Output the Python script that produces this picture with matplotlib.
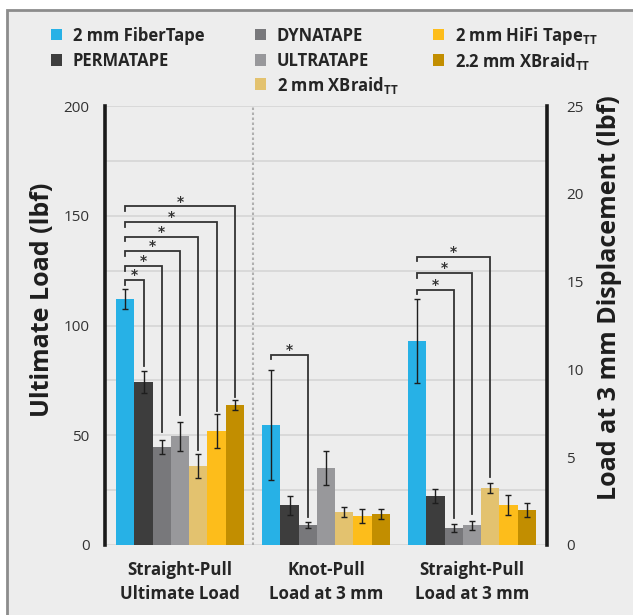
import matplotlib
matplotlib.use("Agg")
import matplotlib.pyplot as plt
import numpy as np
from matplotlib.patches import Rectangle

# ---------------- data ----------------
series = ["2 mm FiberTape", "PERMATAPE", "DYNATAPE", "ULTRATAPE",
          r"2 mm XBraid$_{\mathbf{TT}}$", r"2 mm HiFi Tape$_{\mathbf{TT}}$",
          r"2.2 mm XBraid$_{\mathbf{TT}}$"]
colors = ["#27b1e6", "#3d3d3d", "#78787b", "#98989b", "#e3c26f", "#fdbd1b", "#c28e00"]
groups = ["Straight-Pull\nUltimate Load", "Knot-Pull\nLoad at 3 mm", "Straight-Pull\nLoad at 3 mm"]

ultimate_load = [112.1, 74.1, 44.6, 49.4, 35.9, 51.9, 63.7]
ultimate_err = [4.7, 5.0, 3.3, 6.8, 5.5, 7.7, 2.2]
knot_load3 = [6.83, 2.26, 1.12, 4.37, 1.86, 1.64, 1.75]
knot_err = [3.14, 0.54, 0.16, 0.98, 0.30, 0.39, 0.26]
straight_load3 = [11.62, 2.78, 0.95, 1.12, 3.23, 2.26, 1.98]
straight_err = [2.40, 0.42, 0.23, 0.26, 0.29, 0.59, 0.40]

left_ticks = [0, 50, 100, 150, 200]
right_ticks = [0, 5, 10, 15, 20, 25]

# significance brackets: (target series index, bracket height, drop end)
brackets_g1 = [(1, 120.6, 81.7), (2, 127.0, 51.3), (3, 133.9, 59.0),
               (4, 140.5, 43.2), (5, 147.1, 61.1), (6, 154.3, 67.5)]
brackets_g2 = [(2, 10.84, 1.6)]
brackets_g3 = [(2, 14.52, 1.5), (3, 15.48, 1.73), (4, 16.42, 3.84)]

# ---------------- style ----------------
BFAM = "Open Sans"
plt.rcParams["mathtext.fontset"] = "custom"
plt.rcParams["mathtext.rm"] = BFAM
plt.rcParams["mathtext.bf"] = BFAM + ":bold"
BOLD = dict(family=BFAM, weight="bold")
TXT = "#252525"
W, H = 633, 615

fig = plt.figure(figsize=(W / 100, H / 100), dpi=100, facecolor="white")
fig.add_artist(Rectangle((7 / W, -0.1), 1.2, 1 - 10 / H + 0.1, transform=fig.transFigure,
                         facecolor="#ededed", edgecolor="#8c8c8c", lw=2, zorder=-10))

ax = fig.add_axes([105 / W, 1 - 544.7 / H, 442 / W, 438.4 / H])
ax.set_facecolor("#ededed")
ax2 = ax.twinx()
ax2.set_facecolor("none")

ax.set_xlim(-0.514, 2.514)
ax.set_ylim(0, 200)
ax2.set_ylim(0, 25)

bw = 0.125
offs = (np.arange(len(series)) - 3) * bw
ebkw = dict(fmt="none", ecolor="#1e1e1e", elinewidth=1.0, capsize=2.2, capthick=1.0, zorder=3)

for i in range(len(series)):
    ax.bar(0 + offs[i], ultimate_load[i], bw, color=colors[i], zorder=2)
    ax.errorbar(0 + offs[i], ultimate_load[i], yerr=ultimate_err[i], **ebkw)
    ax2.bar(1 + offs[i], knot_load3[i], bw, color=colors[i], zorder=2)
    ax2.errorbar(1 + offs[i], knot_load3[i], yerr=knot_err[i], **ebkw)
    ax2.bar(2 + offs[i], straight_load3[i], bw, color=colors[i], zorder=2)
    ax2.errorbar(2 + offs[i], straight_load3[i], yerr=straight_err[i], **ebkw)


def draw_brackets(a, gx, items, tick):
    for tgt, h, bottom in items:
        x0 = gx + offs[0]
        x1 = gx + offs[tgt]
        a.plot([x0, x0, x1, x1], [h - tick, h, h, bottom], color="#333333", lw=1.3,
               solid_joinstyle="miter", zorder=4)
        a.annotate("*", xy=((x0 + x1) / 2, h), xytext=(0, 3.5), textcoords="offset points",
                   ha="center", va="center", fontsize=10, fontweight="bold",
                   color="#333333", zorder=5)


draw_brackets(ax, 0, brackets_g1, 2.0)
draw_brackets(ax2, 1, brackets_g2, 0.25)
draw_brackets(ax2, 2, brackets_g3, 0.25)

ax.axvline(0.5, color="#b0b0b0", lw=1.5, ls=(0, (1.2, 1.2)), zorder=1)

# grid / ticks
ax.set_yticks(left_ticks)
ax.set_yticks(np.arange(25, 200, 50), minor=True)
ax.grid(True, axis="y", which="both", color="#d5d5d5", lw=1.2, zorder=0)
ax.set_axisbelow(True)
ax.tick_params(axis="y", which="both", length=0, pad=11, labelsize=11, labelcolor="#333333")
ax2.set_yticks(right_ticks)
ax2.tick_params(axis="y", length=0, pad=14, labelsize=11, labelcolor="#333333")
for a in (ax, ax2):
    for lab in a.get_yticklabels():
        lab.set_family("Open Sans")

ax.set_xticks([0, 1, 2])
ax.set_xticklabels(groups, fontsize=12.2, color=TXT, linespacing=1.4, **BOLD)
ax.tick_params(axis="x", length=0, pad=12)

for a in (ax, ax2):
    a.spines["top"].set_visible(False)
    a.spines["bottom"].set_visible(False)
ax.spines["right"].set_visible(False)
ax2.spines["left"].set_visible(False)
ax.spines["left"].set_linewidth(2.6)
ax.spines["left"].set_color("#1a1a1a")
ax2.spines["right"].set_linewidth(2.6)
ax2.spines["right"].set_color("#1a1a1a")

fig.text(43 / W, 1 - 300 / H, "Ultimate Load (lbf)", rotation=90, ha="center", va="center",
         fontsize=18, color="#1e1e1e", **BOLD)
fig.text(610 / W, 1 - 298 / H, "Load at 3 mm Displacement (lbf)", rotation=90,
         ha="center", va="center", fontsize=18, color="#1e1e1e", **BOLD)

# legend (manual layout)
col_x = [56.5, 260.5, 438.5]
row_y = [34.5, 60, 84]
slots = [(0, 0), (0, 1), (1, 0), (1, 1), (1, 2), (2, 0), (2, 1)]
sq = 11
for i, (c, r) in enumerate(slots):
    cx, cy = col_x[c], row_y[r]
    fig.add_artist(Rectangle(((cx - sq / 2) / W, 1 - (cy + sq / 2) / H), sq / W, sq / H,
                             transform=fig.transFigure, facecolor=colors[i], edgecolor="none"))
    fig.text((cx + 16.5) / W, 1 - (cy + 6.5) / H, series[i], ha="left", va="baseline",
             fontsize=12, color=TXT, **BOLD)

fig.savefig("out.png", dpi=100, facecolor="white")
